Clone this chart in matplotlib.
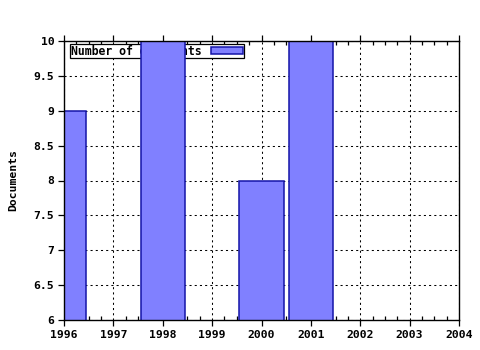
import matplotlib
matplotlib.use("Agg")
import matplotlib.pyplot as plt
from matplotlib.patches import Patch
from matplotlib.ticker import MultipleLocator, FuncFormatter

years = [1996, 1998, 2000, 2001]
documents = [9, 10, 8, 10]
series_name = "Number of documents"

plt.rcParams['font.family'] = ['DejaVu Sans Mono']
plt.rcParams['font.weight'] = 'bold'
plt.rcParams['font.size'] = 8

fig = plt.figure(figsize=(4.8, 3.5), dpi=100)
ax = fig.add_axes([64 / 480, 1 - 320 / 350, (459 - 64) / 480, (320 - 41) / 350])

fill = '#8080ff'
edge = '#1414a8'
ax.bar(years, documents, width=0.9, color=fill, edgecolor=edge, linewidth=1.1, zorder=2)

ax.set_xlim(1996, 2004)
ax.set_ylim(6, 10)
ax.xaxis.set_major_locator(MultipleLocator(1))
ax.xaxis.set_minor_locator(MultipleLocator(0.25))
ax.yaxis.set_major_locator(MultipleLocator(0.5))
ax.xaxis.set_major_formatter(FuncFormatter(lambda v, p: f"{int(v)}"))
ax.yaxis.set_major_formatter(FuncFormatter(lambda v, p: f"{v:g}"))

ax.tick_params(axis='x', which='major', direction='out', length=4, top=True, width=0.9)
ax.tick_params(axis='x', which='minor', direction='in', length=3, top=True, width=0.9)
ax.tick_params(axis='y', which='major', direction='out', length=4, right=False, width=0.9)
ax.tick_params(axis='both', which='major', pad=3, labelsize=8.2)

ax.set_axisbelow(True)
ax.grid(True, which='major', color='black', linestyle=(0, (2, 3)), linewidth=0.75)
for s in ax.spines.values():
    s.set_linewidth(1.0)
    s.set_zorder(3)

ax.set_ylabel("Documents", fontsize=8.2, fontweight='bold', labelpad=11)

leg = ax.legend(handles=[Patch(facecolor=fill, edgecolor=edge, linewidth=1.1, label=series_name)],
                loc='upper left', bbox_to_anchor=(6 / 395, 1 - 3 / 279), markerfirst=False,
                fancybox=False, framealpha=1, edgecolor='black', borderpad=0.06,
                handlelength=2.8, handleheight=0.55, handletextpad=0.8, borderaxespad=0,
                prop={'family': 'DejaVu Sans Mono', 'weight': 'bold', 'size': 8.3})
leg.get_frame().set_linewidth(0.9)
leg.set_zorder(1)

fig.savefig("out.png", dpi=100)
